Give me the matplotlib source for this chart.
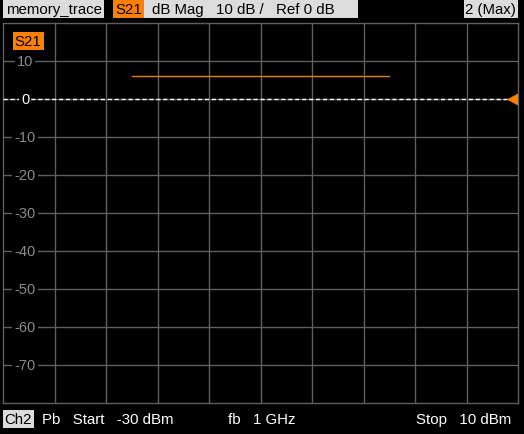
import matplotlib
matplotlib.use("Agg")
import matplotlib.pyplot as plt
from matplotlib.patches import Rectangle, Polygon

# Data
x_start, x_stop = -30, 10          # dBm
y_top, y_bottom = 20, -80          # dB
y_ticks = [10, 0, -10, -20, -30, -40, -50, -60, -70]
trace_x = [-20, 0]
trace_y = [6.1, 6.1]
ref_level = 0

W, H = 524, 435
fig = plt.figure(figsize=(W / 100, H / 100), dpi=100, facecolor="black")
plt.rcParams["font.family"] = ["Liberation Sans", "DejaVu Sans"]

def px(x0, y0, w, h):
    return [x0 / W, 1 - (y0 + h) / H, w / W, h / H]

ax = fig.add_axes(px(3, 24, 515, 380))
ax.set_facecolor("black")
ax.set_xlim(x_start, x_stop)
ax.set_ylim(y_bottom, y_top)
grid_c = "#5f5f5f"
for xv in [x_start + i * (x_stop - x_start) / 10 for i in range(1, 10)]:
    ax.axvline(xv, color=grid_c, lw=1)
for yv in range(y_bottom + 10, y_top, 10):
    ax.axhline(yv, color=grid_c, lw=1)
for s in ax.spines.values():
    s.set_color(grid_c)
    s.set_linewidth(1)
ax.set_xticks([])
ax.set_yticks([])

# Reference line
ax.axhline(ref_level, color="white", lw=1, ls=(0, (3, 2)), zorder=3)

# Tick labels
xlab = x_start + (25 - 3) / 515 * (x_stop - x_start)
for t in y_ticks:
    col = "white" if t == ref_level else "#8a8a8a"
    ax.text(xlab, t, f"{t}", color=col, fontsize=10.5, ha="center", va="center",
            zorder=5, bbox=dict(boxstyle="square,pad=0.15", fc="black", ec="none"))

# Trace
ax.plot(trace_x, trace_y, color="#e0801a", lw=1, zorder=4)
ax.margins(0)

# Overlay in pixel coordinates
fg = fig.add_axes([0, 0, 1, 1])
fg.set_xlim(0, W)
fg.set_ylim(H, 0)
fg.axis("off")
fg.patch.set_alpha(0)
light = "#dcdcdc"
orange = "#ff8000"
fs = 10.8

# Ref marker triangle
fg.add_patch(Polygon([(507, 100.5), (518, 94.5), (518, 106.5)], closed=True,
                     fc=orange, ec="none", zorder=6))

# Header
fg.add_patch(Rectangle((3, 0), 101, 19, fc=light, ec="none"))
fg.text(6, 10, "memory_trace", color="black", fontsize=fs, va="center")
fg.add_patch(Rectangle((113, 0), 31, 19, fc=orange, ec="none"))
fg.text(115, 10, "S21", color="black", fontsize=fs, va="center")
fg.add_patch(Rectangle((144, 0), 214, 19, fc=light, ec="none"))
fg.text(152, 10, "dB Mag   10 dB /   Ref 0 dB", color="black", fontsize=fs, va="center")
fg.add_patch(Rectangle((464, 0), 54, 19, fc=light, ec="none"))
fg.text(465, 10, "2 (Max)", color="black", fontsize=fs, va="center")

# S21 trace label
fg.add_patch(Rectangle((13, 33), 31, 18, fc=orange, ec="none"))
fg.text(14, 42, "S21", color="black", fontsize=fs, va="center")

# Footer
fg.add_patch(Rectangle((3, 411), 31, 18, fc=light, ec="none"))
fg.text(4, 420, "Ch2", color="black", fontsize=fs, va="center")
fg.text(42, 420, "Pb   Start   -30 dBm", color="white", fontsize=fs, va="center")
fg.text(228, 420, "fb   1 GHz", color="white", fontsize=fs, va="center")
fg.text(416, 420, "Stop   10 dBm", color="white", fontsize=fs, va="center")

fig.savefig("out.png", dpi=100, facecolor="black")
